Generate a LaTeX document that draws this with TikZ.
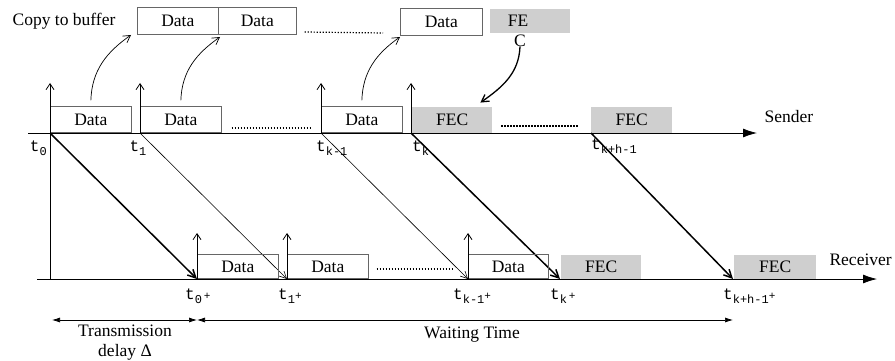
\documentclass[tikz,border=0pt]{standalone}
\usepackage{fontspec}
\setmainfont{Liberation Serif}
\newfontfamily\monofont{Liberation Mono}
\usetikzlibrary{arrows.meta,positioning}
\newcommand{\tlab}[2]{{\monofont\fontsize{16}{16}\selectfont t}\raisebox{-4pt}{\monofont\fontsize{12}{12}\selectfont #1}\raisebox{0pt}{\monofont\fontsize{11}{11}\selectfont #2}}

\begin{document}
\begin{tikzpicture}[
		x=1pt, y=-1pt,
		every node/.style={font=\fontsize{17.5}{20}\selectfont},
		databox/.style={draw=black!60, line width=0.7pt, minimum width=81pt, minimum height=26pt, inner sep=0pt, anchor=south west},
		fecbox/.style={fill=gray!38, minimum width=81pt, minimum height=26pt, inner sep=0pt, anchor=south west},
		axis/.style={line width=0.8pt, -{Latex[length=14pt,width=9pt]}},
		tick/.style={line width=0.8pt, -{Straight Barb[length=6pt,width=8pt]}},
		thinsend/.style={line width=0.6pt, -{Straight Barb[length=7pt,width=7pt]}},
		thicksend/.style={line width=1.5pt, -{Straight Barb[length=8pt,width=8pt]}},
		copyarrow/.style={line width=0.7pt, -{Straight Barb[length=7pt,width=8pt]}},
		dots/.style={line width=1.2pt, dash pattern=on 1.2pt off 1.8pt},
		span/.style={line width=0.7pt, {Latex[length=8pt,width=5pt]}-{Latex[length=8pt,width=5pt]}},
		tlabel/.style={inner sep=0pt}
	]
	\useasboundingbox (0,0) rectangle (895,361);

	\coordinate (sa) at (28,133);
	\coordinate (se) at (757,133);
	\coordinate (ra) at (37,279);
	\coordinate (re) at (877,279);
	\coordinate (base) at (50,279);
	\coordinate (s0) at (50,133);
	\coordinate (s1) at (140,133);
	\coordinate (sk1) at (321,133);
	\coordinate (sk) at (411,133);
	\coordinate (skh) at (591,133);
	\coordinate (r0) at (197,279);
	\coordinate (r1) at (287,279);
	\coordinate (rk1) at (468,279);
	\coordinate (rk) at (560,279);
	\coordinate (rkh) at (733,279);

	% buffer
	\node (copy) at (64,21) {Copy to buffer};
	\node[databox, minimum height=27pt] (bd0) at (137,35) {Data};
	\node[databox, minimum height=27pt, minimum width=78pt] (bd1) at (218,35) {Data};
	\node[databox, minimum height=27pt, minimum width=82pt] (bdk) at (400,36) {Data};
	\node[fecbox, minimum height=24pt, minimum width=80pt] (bfec) at (490,33) {};
	\node (fe) at (518,21) {FE};
	\node (fec) at (520,41) {C};
	\draw[dots] ([shift={(8pt,3pt)}]bd1.south east) -- ([shift={(-17pt,3pt)}]bdk.south west);

	% sender
	\draw[axis] (sa) -- (se);
	\node[anchor=west] (snd) at (761,117) {Sender};
	\node[databox] (ds0) at (s0) {Data};
	\node[databox] (ds1) at (s1) {Data};
	\node[databox] (dsk1) at (sk1) {Data};
	\node[fecbox, minimum width=80pt] (fs0) at ([xshift=1pt]sk) {FEC};
	\node[fecbox] (fs1) at (skh) {FEC};
	\draw[dots] ([shift={(10pt,5pt)}]ds1.south east) -- ([shift={(-10pt,5pt)}]dsk1.south west);
	\draw[dots] ([shift={(9pt,7pt)}]fs0.south east) -- ([shift={(-12pt,7pt)}]fs1.south west);
	\draw[tick] (base) -- ([yshift=50pt]s0);
	\draw[tick] (s1) -- ([yshift=50pt]s1);
	\draw[tick] (sk1) -- ([yshift=50pt]sk1);
	\draw[tick] (sk) -- ([yshift=50pt]sk);

	\draw[copyarrow] ([yshift=6pt]ds0.north) to[out=88, in=215] ([xshift=-6pt]bd0.south west);
	\draw[copyarrow] ([yshift=6pt]ds1.north) to[out=88, in=215] ([shift={(2pt,-2pt)}]bd1.south west);
	\draw[copyarrow] ([yshift=6pt]dsk1.north) to[out=88, in=215] ([yshift=-1pt]bdk.south west);
	\draw[copyarrow, line width=1.3pt] ([yshift=4pt]fec.south) to[out=-92, in=35] ([shift={(-12pt,4pt)}]fs0.north east);

	\node[tlabel, anchor=north east] (lt0) at (47,141) {\tlab{0}{}};
	\node[tlabel, anchor=north] (lt1) at (138,141) {\tlab{1}{}};
	\node[tlabel, anchor=north west] (ltk1) at (316,141) {\tlab{k-1}{}};
	\node[tlabel, anchor=north west] (ltk) at (412,141) {\tlab{k}{}};
	\node[tlabel, anchor=north west] (ltkh) at (591,139) {\tlab{k+h-1}{}};

	% transmission
	\draw[thicksend] (s0) -- (r0);
	\draw[thinsend] (s1) -- (r1);
	\draw[thinsend] (sk1) -- (rk1);
	\draw[thicksend] (sk) -- (rk);
	\draw[thicksend] (skh) -- (rkh);

	% receiver
	\draw[axis] (ra) -- (re);
	\node[anchor=west] (rcv) at (826,260) {Receiver};
	\node[databox, minimum height=24pt] (dr0) at (r0) {Data};
	\node[databox, minimum height=24pt] (dr1) at (r1) {Data};
	\node[databox, minimum height=24pt, minimum width=80pt] (drk1) at (rk1) {Data};
	\node[fecbox, minimum height=24pt, minimum width=80pt] (fr0) at ([xshift=1pt]rk) {FEC};
	\node[fecbox, minimum height=24pt, minimum width=82pt] (fr1) at ([xshift=1pt]rkh) {FEC};
	\draw[dots] ([shift={(8pt,10pt)}]dr1.south east) -- ([shift={(-14pt,10pt)}]drk1.south west);
	\draw[tick] (r0) -- ([yshift=46pt]r0);
	\draw[tick] (r1) -- ([yshift=46pt]r1);
	\draw[tick] (rk1) -- ([yshift=46pt]rk1);

	\node[tlabel, anchor=north west] (lr0) at (185,289) {\tlab{0}{\,+}};
	\node[tlabel, anchor=north west] (lr1) at (278,289) {\tlab{1}{+}};
	\node[tlabel, anchor=north west] (lrk1) at (453,289) {\tlab{k-1}{+}};
	\node[tlabel, anchor=north west] (lrk) at (550,289) {\tlab{k}{\,+}};
	\node[tlabel, anchor=north west] (lrkh) at (723,289) {\tlab{k+h-1}{+}};

	% delays
	\coordinate (d0) at (52,320);
	\coordinate (d1) at (197,320);
	\coordinate (d2) at (733,320);
	\draw[span] (d0) -- (d1);
	\draw[span] (d1) -- (d2);
	\node[align=center] (tdelay) at (125,343) {Transmission\\delay Δ};
	\node (wait) at (472,335) {Waiting Time};
\end{tikzpicture}
\end{document}
